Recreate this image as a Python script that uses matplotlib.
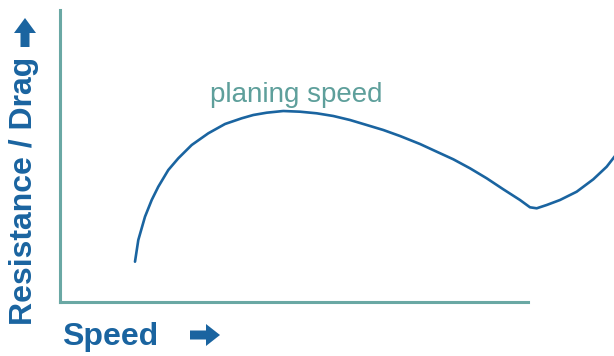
import matplotlib
matplotlib.use("Agg")
import matplotlib.pyplot as plt
from matplotlib.patches import FancyArrow

# Data (speed, resistance) in arbitrary units
speed = [75.0, 78.3, 85.0, 91.7, 98.3, 108.3, 118.3, 131.7, 148.3, 165.0,
         181.7, 193.3, 206.7, 223.3, 240.0, 256.7, 273.3, 290.0, 306.7,
         323.3, 340.0, 360.0, 376.7, 393.3, 410.0, 426.7, 443.3, 460.0,
         470.0, 476.7, 486.7, 500.0, 516.7, 533.3, 546.7, 555.0]
resistance = [40.3, 62.0, 85.3, 102.0, 115.3, 132.0, 143.7, 157.0, 168.7,
              178.0, 183.7, 187.0, 189.3, 191.0, 190.3, 188.7, 186.0, 182.0,
              177.0, 172.0, 166.0, 158.0, 150.3, 142.7, 133.7, 123.7, 112.7,
              102.0, 94.7, 93.7, 97.0, 102.0, 110.3, 122.7, 135.3, 146.0]

xlabel = "Speed"
ylabel = "Resistance / Drag"
annotation = "planing speed"

W, H = 614, 356
fig = plt.figure(figsize=(W / 100, H / 100), dpi=100)

BLUE = "#1a64a0"
TEAL = "#6aa8a4"
TEAL_TXT = "#5e9f9b"

ax = fig.add_axes([60 / W, 1 - 302 / H, (W - 60) / W, (302 - 10) / H])
ax.set_xlim(0, 554)
ax.set_ylim(0, 292)
for s in ["top", "right", "bottom"]:
    ax.spines[s].set_visible(False)
ax.spines["left"].set_color(TEAL)
ax.spines["left"].set_linewidth(2.2)
ax.axhline(0, xmin=0, xmax=468 / 554, color=TEAL, lw=2.2, clip_on=False)
ax.set_xticks([])
ax.set_yticks([])
ax.patch.set_alpha(0)

ax.plot(speed, resistance, color=BLUE, lw=1.9, clip_on=False,
        solid_joinstyle="round", solid_capstyle="round")

# overlay for text and arrows in pixel coordinates
ov = fig.add_axes([0, 0, 1, 1])
ov.set_xlim(0, W)
ov.set_ylim(H, 0)
ov.axis("off")
ov.patch.set_alpha(0)

font = "Liberation Sans"
ov.text(62, 345, xlabel, fontsize=23, fontweight="bold", color=BLUE,
        family=font, ha="left", va="baseline")
ov.text(32, 325, ylabel, fontsize=23, fontweight="bold", color=BLUE,
        family=font, ha="left", va="baseline", rotation=90,
        rotation_mode="anchor")
ov.text(210, 102, annotation, fontsize=20, color=TEAL_TXT, family=font,
        ha="left", va="baseline")

# arrows
ov.add_patch(FancyArrow(25, 47, 0, -29, width=9, head_width=22,
                        head_length=15, length_includes_head=True,
                        color=BLUE, lw=0))
ov.add_patch(FancyArrow(190, 335, 30, 0, width=9, head_width=22,
                        head_length=14, length_includes_head=True,
                        color=BLUE, lw=0))

fig.savefig("out.png", dpi=100, facecolor="white")
